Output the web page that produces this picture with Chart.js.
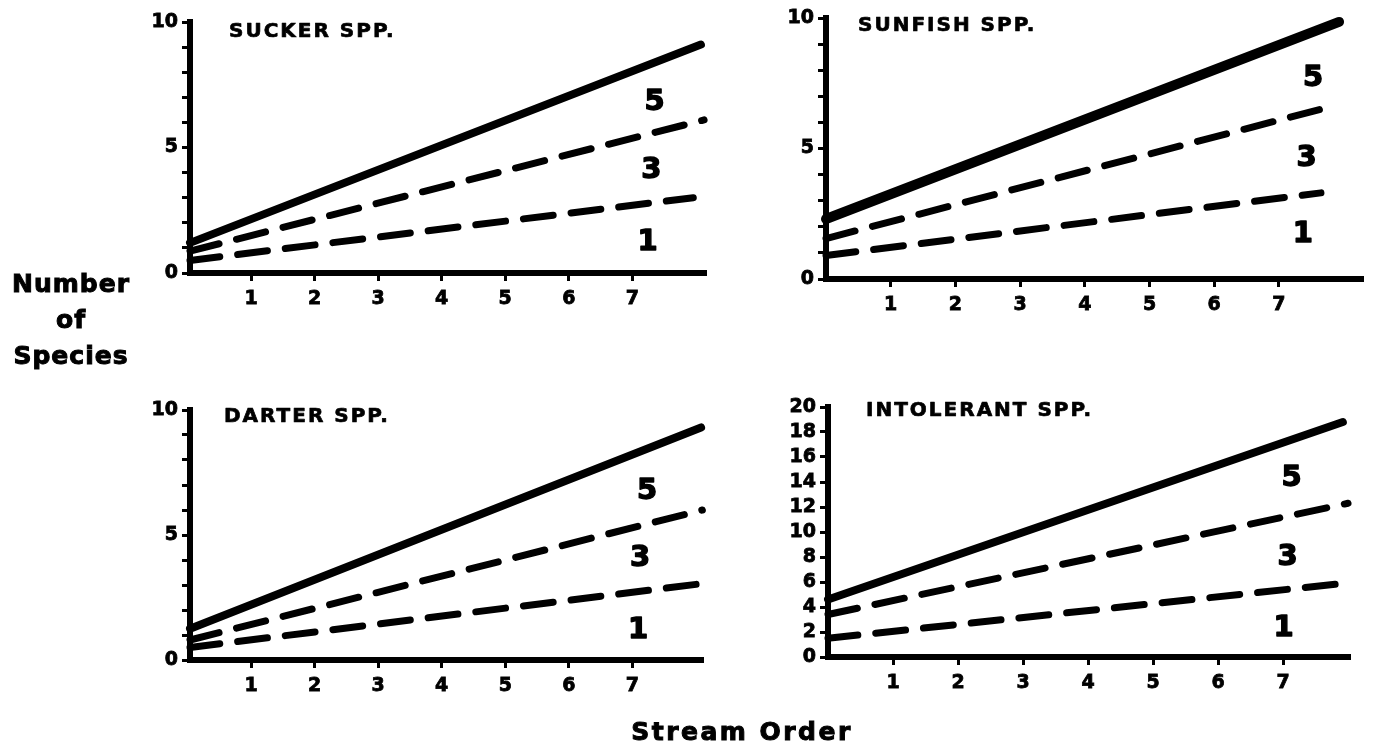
<!DOCTYPE html>
<html>
<head>
<meta charset="utf-8">
<title>Number of Species by Stream Order</title>
<script src="https://cdn.jsdelivr.net/npm/chart.js@4/dist/chart.umd.min.js"></script>
<style>
  html, body { margin: 0; padding: 0; background: #fff; }
  body { width: 1380px; height: 751px; position: relative; overflow: hidden; font-family: "DejaVu Sans", sans-serif; color: #000; }
  canvas { position: absolute; }
  .ylab { position: absolute; left: 0; top: 266px; width: 142px; text-align: center; font-weight: bold; font-size: 25px; line-height: 36px; letter-spacing: 1px; -webkit-text-stroke: 1px #000; }
  .xlab { position: absolute; left: 560px; width: 364px; top: 717px; text-align: center; font-weight: bold; font-size: 25px; letter-spacing: 2.5px; -webkit-text-stroke: 1px #000; }
</style>
</head>
<body>
<canvas id="sucker"></canvas>
<canvas id="sunfish"></canvas>
<canvas id="darter"></canvas>
<canvas id="intolerant"></canvas>
<div class="ylab">Number<br>of<br>Species</div>
<div class="xlab">Stream Order</div>

<script>
// ---- data -------------------------------------------------------------
const streamOrderTicks = [1, 2, 3, 4, 5, 6, 7];
const lineNames = ['5', '3', '1'];           // the three fitted lines, top to bottom
const speciesTicks10 = [0, 1, 2, 3, 4, 5, 6, 7, 8, 9, 10];
const speciesLabels10 = [0, 5, 10];
const speciesTicks20 = [0, 2, 4, 6, 8, 10, 12, 14, 16, 18, 20];
const speciesLabels20 = [0, 2, 4, 6, 8, 10, 12, 14, 16, 18, 20];

// each line: species at its start (the y axis) and at its end order
const suckerStartOrder = 0.04;
const suckerEndOrder = [8.08, 8.13, 7.96];
const suckerAtStart = [1.2, 0.87, 0.5];
const suckerAtEnd = [9.1, 6.1, 3.0];

const sunfishStartOrder = 0.0;
const sunfishEndOrder = [7.93, 7.87, 7.65];
const sunfishAtStart = [2.3, 1.55, 0.9];
const sunfishAtEnd = [9.85, 6.65, 3.3];

const darterStartOrder = 0.04;
const darterEndOrder = [8.08, 8.1, 8.08];
const darterAtStart = [1.25, 0.8, 0.5];
const darterAtEnd = [9.3, 6.0, 3.05];

const intolerantStartOrder = 0.0;
const intolerantEndOrder = [7.92, 8.0, 7.95];
const intolerantAtStart = [4.6, 3.4, 1.5];
const intolerantAtEnd = [18.8, 12.3, 5.9];

// ---- layout -----------------------------------------------------------
const FONT = '"DejaVu Sans", sans-serif';
const panels = [
  { id: 'sucker', title: 'SUCKER SPP.',
    box: { left: 100, top: 0, width: 630, height: 330 }, area: { L: 190, R: 706, T: 22, B: 273 },
    xMin: 0.04, xMax: 8.16, yMax: 10, yTicks: speciesTicks10, yLabels: speciesLabels10,
    titleAt: [39, 10], nameAt: [[7.35, 6.8], [7.3, 4.1], [7.24, 1.2]], solidWidth: 8,
    startOrder: suckerStartOrder, endOrder: suckerEndOrder, atStart: suckerAtStart, atEnd: suckerAtEnd },
  { id: 'sunfish', title: 'SUNFISH SPP.',
    box: { left: 740, top: 0, width: 640, height: 330 }, area: { L: 826, R: 1363, T: 18, B: 279 },
    xMin: 0.0, xMax: 8.3, yMax: 10, yTicks: speciesTicks10, yLabels: speciesLabels10,
    titleAt: [32, 8], nameAt: [[7.53, 7.67], [7.43, 4.6], [7.37, 1.7]], solidWidth: 10,
    startOrder: sunfishStartOrder, endOrder: sunfishEndOrder, atStart: sunfishAtStart, atEnd: sunfishAtEnd },
  { id: 'darter', title: 'DARTER SPP.',
    box: { left: 100, top: 380, width: 630, height: 340 }, area: { L: 190, R: 703, T: 410, B: 660 },
    xMin: 0.04, xMax: 8.11, yMax: 10, yTicks: speciesTicks10, yLabels: speciesLabels10,
    titleAt: [34, 7], nameAt: [[7.23, 6.73], [7.12, 4.08], [7.09, 1.2]], solidWidth: 8,
    startOrder: darterStartOrder, endOrder: darterEndOrder, atStart: darterAtStart, atEnd: darterAtEnd },
  { id: 'intolerant', title: 'INTOLERANT SPP.',
    box: { left: 740, top: 380, width: 640, height: 340 }, area: { L: 828, R: 1350, T: 407, B: 657 },
    xMin: 0.0, xMax: 8.03, yMax: 20, yTicks: speciesTicks20, yLabels: speciesLabels20,
    titleAt: [38, 4], nameAt: [[7.13, 14.3], [7.07, 8.0], [7.01, 2.27]], solidWidth: 8,
    startOrder: intolerantStartOrder, endOrder: intolerantEndOrder, atStart: intolerantAtStart, atEnd: intolerantAtEnd }
];

// title in the upper left and the line names near the right end
function panelText(p) {
  return {
    id: 'panelText',
    afterDatasetsDraw(chart) {
      const { ctx, chartArea, scales } = chart;
      ctx.save();
      ctx.fillStyle = '#000';
      ctx.strokeStyle = '#000';
      ctx.lineJoin = 'round';
      ctx.textBaseline = 'middle';
      ctx.font = 'bold 20px ' + FONT;
      ctx.letterSpacing = '2px';
      ctx.textAlign = 'left';
      ctx.lineWidth = 0.7;
      const tx = chartArea.left + p.titleAt[0], ty = chartArea.top + p.titleAt[1];
      ctx.fillText(p.title, tx, ty);
      ctx.strokeText(p.title, tx, ty);
      ctx.letterSpacing = '0px';
      ctx.font = 'bold 29px ' + FONT;
      ctx.textAlign = 'center';
      ctx.lineWidth = 1.4;
      lineNames.forEach((name, i) => {
        const nx = scales.x.getPixelForValue(p.nameAt[i][0]);
        const ny = scales.y.getPixelForValue(p.nameAt[i][1]);
        ctx.fillText(name, nx, ny);
        ctx.strokeText(name, nx, ny);
      });
      ctx.restore();
    }
  };
}

function buildPanel(p) {
  const cv = document.getElementById(p.id);
  cv.width = p.box.width; cv.height = p.box.height;
  cv.style.left = p.box.left + 'px'; cv.style.top = p.box.top + 'px';
  cv.style.width = p.box.width + 'px'; cv.style.height = p.box.height + 'px';

  const datasets = lineNames.map((name, i) => ({
    label: name,
    data: [ { x: p.startOrder, y: p.atStart[i] }, { x: p.endOrder[i], y: p.atEnd[i] } ],
    borderColor: '#000',
    borderWidth: i === 0 ? p.solidWidth : 7,
    borderDash: i === 0 ? [] : [30, 18],
    borderCapStyle: 'round',
    borderJoinStyle: 'round',
    pointRadius: 0,
    fill: false,
    tension: 0,
    clip: false
  }));

  const tickFont = { family: FONT, weight: 'bold', size: 19 };
  const axisBase = {
    border: { display: true, width: 6, color: '#000' },
    grid: { display: true, drawOnChartArea: false, drawTicks: true, tickLength: 8, tickWidth: 3, tickColor: '#000' }
  };

  new Chart(cv, {
    type: 'line',
    data: { datasets },
    options: {
      responsive: false,
      animation: false,
      devicePixelRatio: 1,
      events: [],
      layout: { padding: { left: 0, top: p.area.T - p.box.top, right: p.box.left + p.box.width - p.area.R, bottom: 0 } },
      plugins: { legend: { display: false }, tooltip: { enabled: false }, title: { display: false } },
      scales: {
        x: Object.assign({}, axisBase, {
          type: 'linear', min: p.xMin, max: p.xMax,
          afterBuildTicks: s => { s.ticks = streamOrderTicks.map(v => ({ value: v })); },
          afterFit: s => { s.height = p.box.top + p.box.height - p.area.B; },
          ticks: { color: '#000', font: tickFont, padding: 7, maxRotation: 0, autoSkip: false,
                   textStrokeColor: '#000', textStrokeWidth: 0.8 }
        }),
        y: Object.assign({}, axisBase, {
          type: 'linear', min: 0, max: p.yMax,
          afterBuildTicks: s => { s.ticks = p.yTicks.map(v => ({ value: v })); },
          afterFit: s => { s.width = p.area.L - p.box.left; },
          ticks: { color: '#000', font: tickFont, padding: 4, autoSkip: false,
                   textStrokeColor: '#000', textStrokeWidth: 0.8,
                   callback: v => (p.yLabels.includes(v) ? String(v) : '') }
        })
      }
    },
    plugins: [panelText(p)]
  });
}

panels.forEach(buildPanel);
</script>
</body>
</html>
